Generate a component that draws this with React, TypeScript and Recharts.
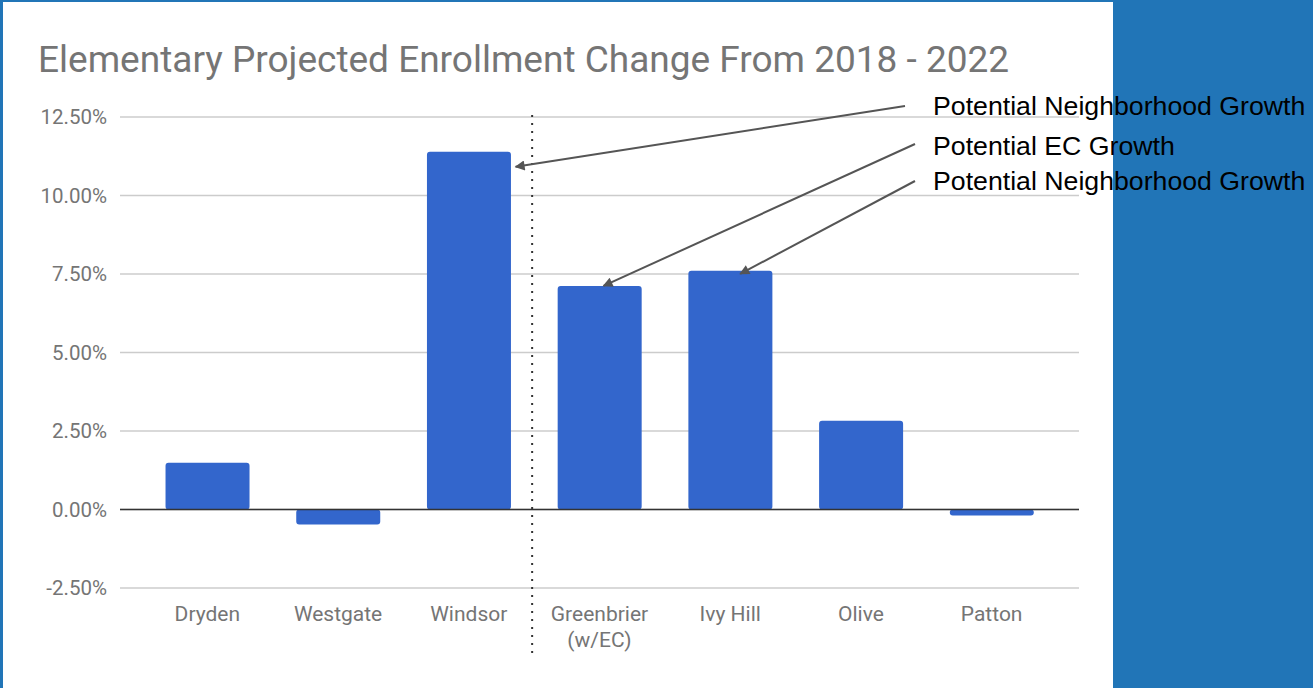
import React from "react";
import { BarChart, Bar, XAxis, YAxis, CartesianGrid, ReferenceLine } from "recharts";

const schools = ["Dryden", "Westgate", "Windsor", "Greenbrier\n(w/EC)", "Ivy Hill", "Olive", "Patton"];
const changePct = [1.49, -0.48, 11.39, 7.12, 7.6, 2.83, -0.19];
const yTicks = [-2.5, 0, 2.5, 5, 7.5, 10, 12.5];
const notes = ["Potential Neighborhood Growth", "Potential EC Growth", "Potential Neighborhood Growth"];

const data = schools.map((name, i) => ({ name, value: changePct[i] }));

// layout
const W = 1113;
const H = 688;
const M_TOP = 117;
const M_RIGHT = 34;
const M_BOTTOM = 40;
const Y_W = 120;
const X_H = 60;
const PAD = 22;
const PLOT_L = Y_W;
const PLOT_R = W - M_RIGHT;
const PLOT_H = H - M_TOP - M_BOTTOM - X_H;
const BAND = (PLOT_R - PLOT_L - 2 * PAD) / schools.length;
const Y_MIN = yTicks[0];
const Y_MAX = yTicks[yTicks.length - 1];

const cx = (i: number) => PLOT_L + PAD + (i + 0.5) * BAND;
const py = (v: number) => M_TOP + ((Y_MAX - v) / (Y_MAX - Y_MIN)) * PLOT_H;
const barHalf = (BAND * 0.64) / 2;

const grey = "#757575";

const XTick = (props: any) => {
  const { x, y, payload } = props;
  const lines = String(payload.value).split("\n");
  return (
    <text x={x} y={y} textAnchor="middle" fill={grey} fontSize={21} fontFamily="Roboto">
      {lines.map((l, i) => (
        <tspan key={i} x={x} dy={i === 0 ? "0.71em" : 26}>
          {l}
        </tspan>
      ))}
    </text>
  );
};

export default function App() {
  const divider = PLOT_L + PAD + 3 * BAND - 2;
  const arrows = [
    { x1: 905, y1: 106, x2: cx(2) + barHalf + 5, y2: py(changePct[2]) + 15 },
    { x1: 915, y1: 144, x2: cx(3) + 4, y2: py(changePct[3]) },
    { x1: 915, y1: 181, x2: cx(4) + 10, y2: py(changePct[4]) + 3 },
  ];
  const noteY = [115, 155, 190];

  return (
    <div style={{ position: "absolute", left: 0, top: 0, width: 1313, height: 688, background: "#2175b7", overflow: "hidden" }}>
      <div style={{ position: "absolute", left: 3, top: 2, width: W - 3, height: H - 2, background: "#ffffff" }} />
      <div style={{ position: "absolute", left: 0, top: 0 }}>
        <BarChart
          width={W}
          height={H}
          data={data}
          margin={{ top: M_TOP, right: M_RIGHT, left: 0, bottom: M_BOTTOM }}
          barCategoryGap="18%"
        >
          <CartesianGrid vertical={false} stroke="#cccccc" strokeWidth={1.5} />
          <XAxis
            dataKey="name"
            axisLine={false}
            tickLine={false}
            tickSize={0}
            tickMargin={18}
            height={X_H}
            padding={{ left: PAD, right: PAD }}
            interval={0}
            tick={<XTick />}
          />
          <YAxis
            width={Y_W}
            domain={[Y_MIN, Y_MAX]}
            ticks={yTicks}
            axisLine={false}
            tickLine={false}
            tickSize={0}
            tickMargin={13}
            tickFormatter={(v: number) => v.toFixed(2) + "%"}
            tick={{ fill: grey, fontSize: 20.5, fontFamily: "Roboto" }}
          />
          <ReferenceLine y={0} stroke="#333333" strokeWidth={1.5} />
          <Bar dataKey="value" fill="#3366cc" radius={3} isAnimationActive={false} />
        </BarChart>
      </div>
      <svg width={1313} height={688} style={{ position: "absolute", left: 0, top: 0, pointerEvents: "none" }}>
        <defs>
          <marker id="arrowhead" viewBox="0 0 10 10" refX={9} refY={5} markerWidth={6} markerHeight={5} orient="auto">
            <path d="M0,0 L10,5 L0,10 z" fill="#555555" />
          </marker>
        </defs>
        <text x={38} y={72} fill={grey} fontSize={37} fontFamily="Roboto">
          Elementary Projected Enrollment Change From 2018 - 2022
        </text>
        <line x1={divider} y1={115} x2={divider} y2={656} stroke="#333333" strokeWidth={2} strokeDasharray="2 6" />
        {arrows.map((a, i) => (
          <line key={i} x1={a.x1} y1={a.y1} x2={a.x2} y2={a.y2} stroke="#555555" strokeWidth={2} markerEnd="url(#arrowhead)" />
        ))}
        {notes.map((t, i) => (
          <text key={i} x={933} y={noteY[i]} fill="#000000" fontSize={26.7} fontFamily="Arial, 'Liberation Sans'">
            {t}
          </text>
        ))}
      </svg>
    </div>
  );
}
